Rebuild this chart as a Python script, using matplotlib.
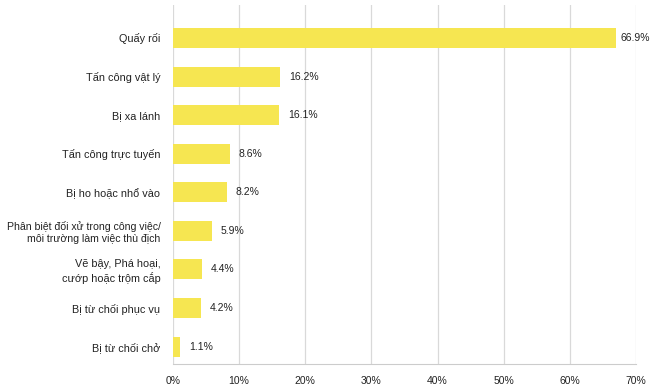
import matplotlib.pyplot as plt

categories = [
    "Quấy rối",
    "Tấn công vật lý",
    "Bị xa lánh",
    "Tấn công trực tuyến",
    "Bị ho hoặc nhổ vào",
    "Phân biệt đối xử trong công việc/\nmôi trường làm việc thù địch",
    "Vẽ bậy, Phá hoại,\ncướp hoặc trộm cắp",
    "Bị từ chối phục vụ",
    "Bị từ chối chở",
]
values = [66.9, 16.2, 16.1, 8.6, 8.2, 5.9, 4.4, 4.2, 1.1]
xticks = [0, 10, 20, 30, 40, 50, 60, 70]

plt.rcParams['font.family'] = ['Liberation Sans', 'DejaVu Sans']

fig = plt.figure(figsize=(6.54, 3.90), dpi=100)
ax = fig.add_axes([0.2645, 0.0667, 0.708, 0.920])

pos = list(range(len(categories)))
ax.barh(pos, values, height=0.52, color="#f6e651", zorder=3)
for p, v in zip(pos, values):
    off = 0.8 if v > 60 else 1.3
    ax.text(v + off, p, "%.1f%%" % v, va="center", ha="left",
            fontsize=7.5, color="#222222")

ax.set_ylim(8.45, -0.85)
ax.set_xlim(0, 70)
ax.set_yticks(pos)
ax.set_yticklabels(categories, fontsize=7.8, color="#222222", linespacing=1.25)
# the long label needs to fit in the left margin
ax.get_yticklabels()[5].set_fontsize(7.6)
ax.set_xticks(xticks)
ax.set_xticklabels(["%d%%" % t for t in xticks], fontsize=7.5, color="#222222")
ax.tick_params(axis="both", length=0)
ax.tick_params(axis="y", pad=9)
ax.tick_params(axis="x", pad=9)
ax.grid(axis="x", color="#d9d9d9", linewidth=0.9, zorder=0)
for s in ["top", "right", "left"]:
    ax.spines[s].set_visible(False)
ax.spines["bottom"].set_color("#cccccc")

plt.savefig("out.png", dpi=100)
plt.close()
